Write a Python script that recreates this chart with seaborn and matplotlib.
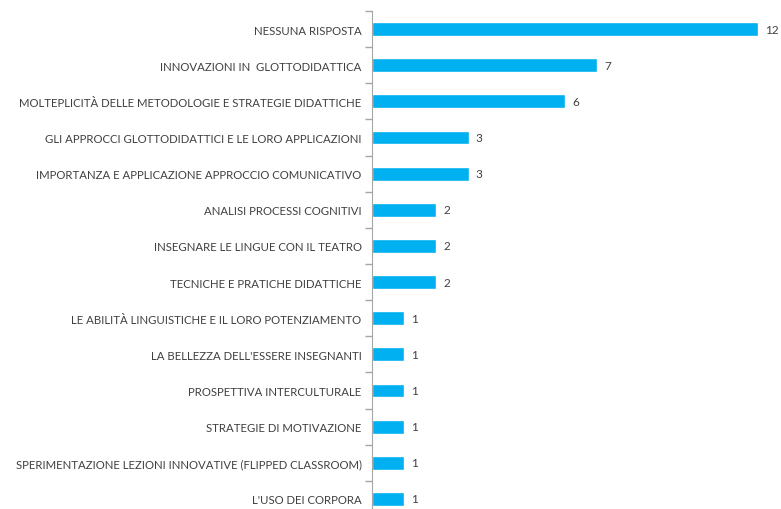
import pandas as pd
import numpy as np
import matplotlib.pyplot as plt
import seaborn as sns

# Data
categories = [
    "NESSUNA RISPOSTA",
    "INNOVAZIONI IN  GLOTTODIDATTICA",
    "MOLTEPLICITÀ DELLE METODOLOGIE E STRATEGIE DIDATTICHE",
    "GLI APPROCCI GLOTTODIDATTICI E LE LORO APPLICAZIONI",
    "IMPORTANZA E APPLICAZIONE APPROCCIO COMUNICATIVO",
    "ANALISI PROCESSI COGNITIVI",
    "INSEGNARE LE LINGUE CON IL TEATRO",
    "TECNICHE E PRATICHE DIDATTICHE",
    "LE ABILITÀ LINGUISTICHE E IL LORO POTENZIAMENTO",
    "LA BELLEZZA DELL'ESSERE INSEGNANTI",
    "PROSPETTIVA INTERCULTURALE",
    "STRATEGIE DI MOTIVAZIONE",
    "SPERIMENTAZIONE LEZIONI INNOVATIVE (FLIPPED CLASSROOM)",
    "L'USO DEI CORPORA",
]
counts = [12, 7, 6, 3, 3, 2, 2, 2, 1, 1, 1, 1, 1, 1]

df = pd.DataFrame({"topic": categories, "n": counts})

sns.set_style("white")
plt.rcParams["font.family"] = ["Lato", "DejaVu Sans"]

fig = plt.figure(figsize=(7.81, 5.10), dpi=100)
# axes placed in pixel terms: left spine at x=372, value 12 at x=758
ax = fig.add_axes([372 / 781, -8 / 510, 386 / 781, 506 / 510])

sns.barplot(data=df, y="topic", x="n", orient="h", color="#00B0F0",
            width=0.38, saturation=1, ax=ax)

ax.set_xlim(0, 12)
ax.set_ylim(len(categories) - 0.5, -0.5)
ax.set_xlabel("")
ax.set_ylabel("")
ax.set_xticks([])

for i, v in enumerate(counts):
    ax.text(v + 0.22, i, str(v), va="center", ha="left", fontsize=8.5, color="#404040")

ax.tick_params(axis="y", which="major", left=False, length=0, pad=7.5,
               labelsize=8.2, labelcolor="#404040")
ax.set_yticks(np.arange(len(categories) + 1) - 0.5, minor=True)
ax.tick_params(axis="y", which="minor", left=True, length=5, color="#A6A6A6", width=1)

for s in ["top", "right", "bottom"]:
    ax.spines[s].set_visible(False)
ax.spines["left"].set_color("#A6A6A6")

fig.savefig("out.png", dpi=100)
